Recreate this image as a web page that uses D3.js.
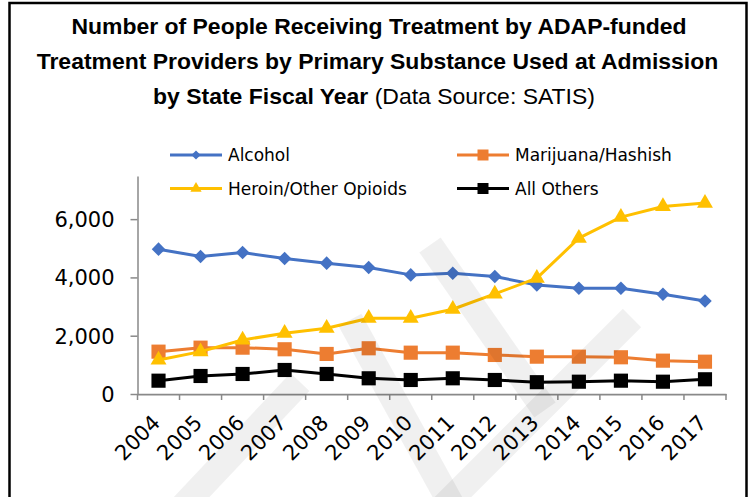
<!DOCTYPE html>
<html>
<head>
<meta charset="utf-8">
<script src="https://cdn.jsdelivr.net/npm/d3@7"></script>
<style>
  body { margin: 0; background: #fff; }
  svg { display: block; }
</style>
</head>
<body>
<div id="chart"></div>
<script>
// data
var years = ["2004", "2005", "2006", "2007", "2008", "2009", "2010",
             "2011", "2012", "2013", "2014", "2015", "2016", "2017"];
var alcohol   = [4970, 4716, 4853, 4647, 4490, 4338, 4087, 4145, 4029, 3743, 3630, 3630, 3424, 3194];
var marijuana = [1453, 1590, 1590, 1535, 1374, 1569, 1418, 1418, 1339, 1281, 1281, 1260, 1144, 1109];
var heroin    = [1168, 1453, 1854, 2085, 2256, 2600, 2600, 2909, 3434, 3974, 5347, 6069, 6433, 6550];
var others    = [457, 618, 687, 824, 687, 539, 481, 539, 481, 405, 422, 457, 422, 505];
var seriesNames = ["Alcohol", "Marijuana/Hashish", "Heroin/Other Opioids", "All Others"];
var yTicks = [0, 2000, 4000, 6000];
var titleLines = ["Number of People Receiving Treatment by ADAP-funded",
                  "Treatment Providers by Primary Substance Used at Admission"];
var titleBold = "by State Fiscal Year ";
var titleNormal = "(Data Source: SATIS)";

var series = [
  {name: seriesNames[0], values: alcohol,   color: "#4472C4", shape: "diamond"},
  {name: seriesNames[1], values: marijuana, color: "#ED7D31", shape: "square"},
  {name: seriesNames[2], values: heroin,    color: "#FFC000", shape: "triangle"},
  {name: seriesNames[3], values: others,    color: "#000000", shape: "square"}
];

var W = 749, H = 497;
var margin = {top: 176, right: 23, bottom: 103, left: 137.5},
    width = W - margin.left - margin.right,
    height = H - margin.top - margin.bottom;

var svg = d3.select("#chart")
  .append("svg")
    .attr("width", W)
    .attr("height", H);

// frame
svg.append("path")
  .attr("d", "M9.5,497 V3 H746.5 V497")
  .attr("fill", "none")
  .attr("stroke", "#000")
  .attr("stroke-width", 2.5);

// title
var titleFont = "'Liberation Sans', Arial, sans-serif";
var title = svg.append("g")
  .attr("font-family", titleFont)
  .attr("fill", "#000")
  .attr("text-anchor", "middle");

var t2 = title.append("text")
  .attr("x", 377.5).attr("y", 68.5)
  .attr("font-weight", "bold")
  .attr("font-size", 22)
  .text(titleLines[1]);
// fit the font size so line 2 spans like the original
var fs = 22 * 682 / t2.node().getComputedTextLength();
t2.attr("font-size", fs);

title.append("text")
  .attr("x", 379).attr("y", 33.5)
  .attr("font-weight", "bold")
  .attr("font-size", fs)
  .text(titleLines[0]);

var t3 = title.append("text")
  .attr("x", 374).attr("y", 103.5)
  .attr("font-size", fs);
t3.append("tspan").attr("font-weight", "bold").text(titleBold);
t3.append("tspan").attr("font-weight", "normal").text(titleNormal);

var g = svg.append("g")
  .attr("transform", "translate(" + margin.left + "," + margin.top + ")");

var x = d3.scaleBand()
  .domain(years)
  .range([0, width])
  .padding(0);

var y = d3.scaleLinear()
  .domain([0, 7480])
  .range([height, 0]);

var axisColor = "#898989";
var tickFont = "'Century Gothic', 'DejaVu Sans', sans-serif";

// Y axis
var yAxis = g.append("g")
  .call(d3.axisLeft(y).tickValues(yTicks).tickFormat(d3.format(",")).tickSize(7).tickSizeOuter(0).tickPadding(16));
yAxis.select(".domain").attr("stroke", axisColor).attr("stroke-width", 1.5);
yAxis.selectAll(".tick line").attr("stroke", axisColor).attr("stroke-width", 1.5);
yAxis.selectAll(".tick text")
  .attr("fill", "#000")
  .attr("font-family", tickFont)
  .attr("font-size", 21)
  .attr("dy", "0.36em");

// X axis
var xAxis = g.append("g")
  .attr("transform", "translate(0," + height + ")")
  .call(d3.axisBottom(x).tickSize(0).tickSizeOuter(0));
xAxis.select(".domain").attr("stroke", axisColor).attr("stroke-width", 1.75);
xAxis.selectAll(".tick text")
  .attr("fill", "#000")
  .attr("font-family", tickFont)
  .attr("font-size", 21)
  .attr("x", 0).attr("y", 0).attr("dy", null)
  .attr("text-anchor", "end")
  .attr("transform", "translate(3,30) rotate(-45)");

// tick marks between categories
var edges = years.map(function(d) { return x(d); }).concat([x.range()[1]]);
xAxis.selectAll(".edge")
  .data(edges)
  .enter().append("line")
    .attr("class", "edge")
    .attr("x1", function(d) { return d; })
    .attr("x2", function(d) { return d; })
    .attr("y1", 0).attr("y2", 6)
    .attr("stroke", axisColor)
    .attr("stroke-width", 1.5);

function cx(i) { return x(years[i]) + x.bandwidth() / 2; }

function symbolPath(shape, big) {
  if (shape === "diamond") return d3.symbol().type(d3.symbolSquare).size(big ? 92 : 42)();
  if (shape === "triangle") return d3.symbol().type(d3.symbolTriangle).size(big ? 110 : 55)();
  return d3.symbol().type(d3.symbolSquare).size(big ? 200 : 121)();
}

var line = d3.line()
  .x(function(d, i) { return cx(i); })
  .y(function(d) { return y(d); });

series.forEach(function(s) {
  g.append("path")
    .datum(s.values)
    .attr("fill", "none")
    .attr("stroke", s.color)
    .attr("stroke-width", 3)
    .attr("stroke-linejoin", "round")
    .attr("d", line);

  g.selectAll(null)
    .data(s.values)
    .enter().append("path")
      .attr("d", symbolPath(s.shape, true))
      .attr("fill", s.color)
      .attr("transform", function(d, i) {
        return "translate(" + cx(i) + "," + y(d) + ")" + (s.shape === "diamond" ? " rotate(45)" : "");
      });
});

// legend
var legendCols = [170, 457], legendRows = [155, 188.5];
var legend = svg.append("g")
  .attr("font-family", tickFont)
  .attr("font-size", 17);
series.forEach(function(s, i) {
  var lx = legendCols[i % 2], ly = legendRows[Math.floor(i / 2)];
  var item = legend.append("g").attr("transform", "translate(" + lx + "," + ly + ")");
  item.append("line")
    .attr("x1", 0).attr("x2", 52)
    .attr("stroke", s.color).attr("stroke-width", 3);
  item.append("path")
    .attr("d", symbolPath(s.shape, false))
    .attr("fill", s.color)
    .attr("transform", "translate(26,0)" + (s.shape === "diamond" ? " rotate(45)" : ""));
  item.append("text")
    .attr("x", 58).attr("y", 6.2)
    .attr("fill", "#000")
    .text(s.name);
});

// faint watermark bands laid over the chart
var bands = [
  [[430, 245], [545, 410]],
  [[632, 318], [430, 520]],
  [[350, 320], [460, 520]],
  [[300, 382], [170, 520]]
];
svg.append("g")
  .selectAll("path")
  .data(bands)
  .enter().append("path")
    .attr("d", d3.line())
    .attr("stroke", "#000")
    .attr("stroke-opacity", 0.06)
    .attr("stroke-width", 26)
    .attr("fill", "none");
</script>
</body>
</html>
